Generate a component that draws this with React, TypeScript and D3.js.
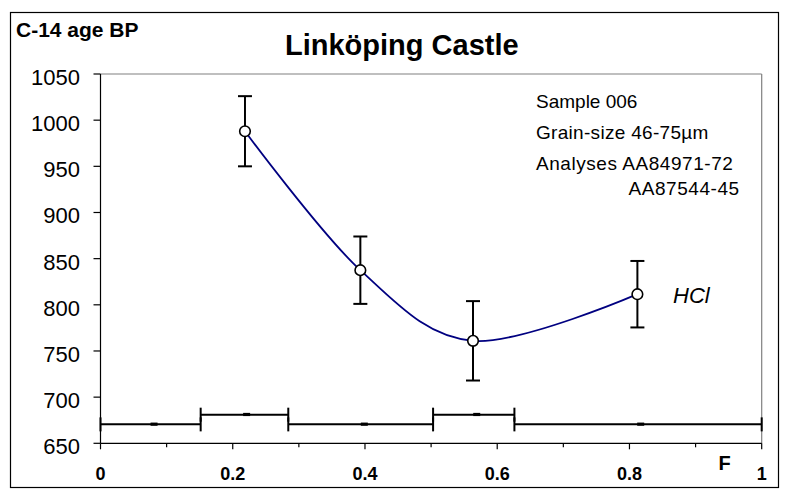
import React from "react";
import * as d3 from "d3";

// Measured C-14 ages per fraction (F = cumulative fraction released)
const fractionF = [0.2185, 0.393, 0.5634, 0.812];
const ageBP = [988, 837.5, 761, 811.5];
const ageErr = [38, 36.5, 43, 36];

// Fraction intervals shown along the bottom
const binStart = [0, 0.1515, 0.284, 0.503, 0.626];
const binEnd = [0.1515, 0.284, 0.503, 0.626, 1];
const binMark = [0.081, 0.221, 0.399, 0.569, 0.817];
const binLevel = [670.5, 681, 670.5, 681, 670.5];

const yTicks = [650, 700, 750, 800, 850, 900, 950, 1000, 1050];
const xMajor = [0, 0.2, 0.4, 0.6, 0.8, 1];
const xMinor = [0.1, 0.3, 0.5, 0.7, 0.9];
const xLabels = ["0", "0.2", "0.4", "0.6", "0.8", "1"];

const noteLines = ["Sample 006", "Grain-size 46-75µm", "Analyses AA84971-72"];
const noteSpacing = [0, 0.3, 0.55];
const noteExtra = "AA87544-45";

const FONT = "'Liberation Sans', Arial, Helvetica, sans-serif";

export default function App() {
  const x = d3.scaleLinear().domain([0, 1]).range([100.5, 761.7]);
  const y = d3.scaleLinear().domain([650, 1050]).range([443.3, 74]);

  const pts: [number, number][] = fractionF.map((f, i) => [x(f), y(ageBP[i])]);
  const line = d3.line().curve(d3.curveCardinal.tension(0))(pts) || "";

  const capW = 7;

  return (
    <svg
      width={785}
      height={490}
      style={{ position: "absolute", left: 0, top: 0, background: "#fff" }}
      fontFamily={FONT}
    >
      <rect x={0} y={0} width={785} height={490} fill="#fff" />
      {/* outer frame */}
      <rect x={10.5} y={12.5} width={768} height={475} fill="none" stroke="#000" strokeWidth={1.2} />

      {/* titles */}
      <text x={16} y={36.5} fontSize={21} fontWeight="bold" fill="#000">C-14 age BP</text>
      <text x={285} y={55} fontSize={29} fontWeight="bold" fill="#000">Linköping Castle</text>

      {/* plot frame: top and right in grey */}
      <line x1={x(0)} x2={x(1)} y1={y(1050)} y2={y(1050)} stroke="#808080" strokeWidth={1.2} />
      <line x1={x(1)} x2={x(1)} y1={y(1050)} y2={y(650)} stroke="#808080" strokeWidth={1.2} />

      {/* y axis */}
      <line x1={x(0)} x2={x(0)} y1={y(1050)} y2={y(650)} stroke="#000" strokeWidth={1.2} />
      {yTicks.map((t) => (
        <g key={"yt" + t}>
          <line x1={x(0) - 7} x2={x(0)} y1={y(t)} y2={y(t)} stroke="#000" strokeWidth={1.2} />
          <text x={80} y={y(t) + 11} fontSize={22} textAnchor="end" fill="#000">{t}</text>
        </g>
      ))}

      {/* x axis */}
      <line x1={x(0)} x2={x(1)} y1={y(650)} y2={y(650)} stroke="#000" strokeWidth={1.2} />
      {xMajor.map((t, i) => (
        <g key={"xt" + t}>
          <line x1={x(t)} x2={x(t)} y1={y(650)} y2={y(650) + 6} stroke="#000" strokeWidth={1.2} />
          <text x={x(t)} y={480} fontSize={18} fontWeight="bold" textAnchor="middle" fill="#000">{xLabels[i]}</text>
        </g>
      ))}
      {xMinor.map((t) => (
        <line key={"xm" + t} x1={x(t)} x2={x(t)} y1={y(650)} y2={y(650) + 4} stroke="#000" strokeWidth={1.2} />
      ))}
      <text x={724.5} y={470} fontSize={20} fontWeight="bold" textAnchor="middle" fill="#000">F</text>

      {/* fraction intervals */}
      {binStart.map((s, i) => {
        const yy = y(binLevel[i]);
        return (
          <g key={"bin" + i}>
            <line x1={x(s)} x2={x(binEnd[i])} y1={yy} y2={yy} stroke="#000" strokeWidth={2} />
            <line x1={x(s)} x2={x(s)} y1={yy - capW} y2={yy + capW} stroke="#000" strokeWidth={2} />
            <line x1={x(binEnd[i])} x2={x(binEnd[i])} y1={yy - capW} y2={yy + capW} stroke="#000" strokeWidth={2} />
            <rect x={x(binMark[i]) - 3.5} y={yy - 1.8} width={7} height={3.2} fill="#000" />
          </g>
        );
      })}

      {/* error bars */}
      {fractionF.map((f, i) => {
        const cx = x(f);
        const top = y(ageBP[i] + ageErr[i]);
        const bot = y(ageBP[i] - ageErr[i]);
        return (
          <g key={"eb" + i} stroke="#000" strokeWidth={2}>
            <line x1={cx} x2={cx} y1={top} y2={bot} />
            <line x1={cx - capW} x2={cx + capW} y1={top} y2={top} />
            <line x1={cx - capW} x2={cx + capW} y1={bot} y2={bot} />
          </g>
        );
      })}

      {/* smoothed trend */}
      <path d={line} fill="none" stroke="#000080" strokeWidth={1.8} />

      {/* sample markers */}
      {pts.map(([px, py], i) => (
        <circle key={"pt" + i} cx={px} cy={py} r={5.3} fill="#fff" stroke="#000" strokeWidth={1.6} />
      ))}

      <text x={673} y={302.5} fontSize={22} fontStyle="italic" fill="#000">HCl</text>

      {/* sample notes */}
      {noteLines.map((s, i) => (
        <text key={"n" + i} x={536} y={108.3 + i * 31} fontSize={19} letterSpacing={noteSpacing[i]} fill="#000">{s}</text>
      ))}
      <text x={628.5} y={195} fontSize={19} letterSpacing={0.55} fill="#000">{noteExtra}</text>
    </svg>
  );
}
